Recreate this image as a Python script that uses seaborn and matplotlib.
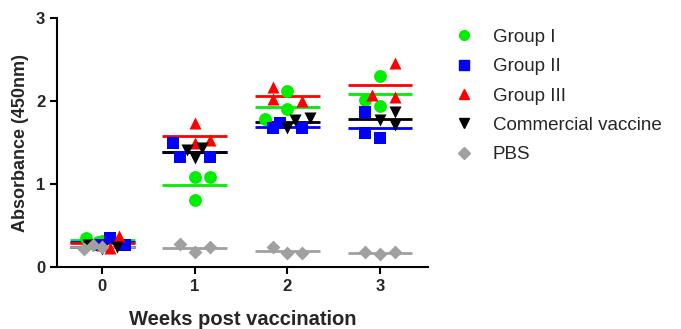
import numpy as np
import pandas as pd
import matplotlib
matplotlib.use("Agg")
import matplotlib.pyplot as plt
import seaborn as sns

weeks = [0, 1, 2, 3]
groups = ["Group I", "Group II", "Group III", "Commercial vaccine", "PBS"]

# absorbance values per group, per week (3 animals each)
group1 = [[0.35, 0.31, 0.30], [1.08, 1.08, 0.81], [2.12, 1.90, 1.78], [2.30, 2.01, 1.94]]
group2 = [[0.35, 0.27, 0.27], [1.49, 1.33, 1.33], [1.67, 1.73, 1.67], [1.87, 1.61, 1.55]]
group3 = [[0.37, 0.23, 0.27], [1.73, 1.49, 1.53], [2.17, 2.02, 2.00], [2.46, 2.07, 2.05]]
commercial = [[0.22, 0.24, 0.26], [1.41, 1.31, 1.43], [1.67, 1.77, 1.79], [1.87, 1.77, 1.71]]
pbs = [[0.22, 0.26, 0.24], [0.28, 0.18, 0.24], [0.24, 0.17, 0.17], [0.18, 0.16, 0.18]]

# horizontal scatter offsets (layout only)
jit1 = [[-0.18, 0.0, -0.05], [0.0, 0.16, 0.0], [0.0, 0.0, -0.24], [0.0, -0.16, 0.0]]
jit2 = [[0.08, -0.05, 0.24], [-0.24, -0.16, 0.16], [-0.16, -0.08, 0.16], [-0.16, -0.16, 0.0]]
jit3 = [[0.18, 0.08, 0.0], [0.0, 0.0, 0.16], [-0.16, -0.16, 0.16], [0.16, -0.09, 0.16]]
jit4 = [[0.0, 0.16, -0.16], [-0.08, 0.0, 0.08], [0.0, 0.08, 0.24], [0.16, 0.0, 0.16]]
jit5 = [[-0.2, -0.1, 0.0], [-0.16, 0.0, 0.16], [-0.16, 0.0, 0.16], [-0.16, 0.0, 0.16]]

data = [group1, group2, group3, commercial, pbs]
jits = [jit1, jit2, jit3, jit4, jit5]

colors = {"Group I": "#00EE00", "Group II": "#0000FF", "Group III": "#FF0000",
          "Commercial vaccine": "#000000", "PBS": "#A0A0A0"}
markers = {"Group I": "o", "Group II": "s", "Group III": "^",
           "Commercial vaccine": "v", "PBS": "D"}
sizes = {"Group I": 85, "Group II": 65, "Group III": 75,
         "Commercial vaccine": 75, "PBS": 50}

rows = []
for g, vals, jit in zip(groups, data, jits):
    for w, vs, js in zip(weeks, vals, jit):
        for v, j in zip(vs, js):
            rows.append({"group": g, "week": w, "x": w + j, "abs": v})
df = pd.DataFrame(rows)

sns.set_style("ticks")
plt.rcParams["font.family"] = ["Liberation Sans", "DejaVu Sans"]

fig = plt.figure(figsize=(6.81, 3.29), dpi=100)
ax = fig.add_axes([57/681, 1-267/329, (428-57)/681, (267-18)/329])

# mean lines
for g in groups:
    sub = df[df.group == g]
    for w in weeks:
        m = sub[sub.week == w]["abs"].mean()
        ax.hlines(m, w - 0.35, w + 0.35, color=colors[g], lw=2, zorder=2)

for g in groups:
    sub = df[df.group == g]
    sns.scatterplot(data=sub, x="x", y="abs", color=colors[g], marker=markers[g],
                    s=sizes[g], linewidth=0, ax=ax, zorder=3, label=g, legend=False)

ax.set_xlim(-0.49, 3.52)
ax.set_ylim(0, 3)
ax.set_xticks(weeks)
ax.set_yticks([0, 1, 2, 3])
for s in ["top", "right"]:
    ax.spines[s].set_visible(False)
for s in ["left", "bottom"]:
    ax.spines[s].set_linewidth(1.5)
    ax.spines[s].set_color("black")
ax.tick_params(width=1.5, length=5, color="black", labelsize=12)
for lbl in ax.get_xticklabels() + ax.get_yticklabels():
    lbl.set_fontweight("bold")
ax.set_xlabel("Weeks post vaccination", fontsize=14.5, fontweight="bold", labelpad=12)
ax.set_ylabel("Absorbance (450nm)", fontsize=13, fontweight="bold", labelpad=5)

handles = [plt.Line2D([], [], ls="", marker=markers[g], color=colors[g],
                      markersize=7 if markers[g] != "D" else 6) for g in groups]
fig.legend(handles, groups, loc="upper left", bbox_to_anchor=(433/681, 1-12/329),
           frameon=False, fontsize=13.5, handletextpad=0.8, labelspacing=0.65,
           handlelength=1.5)

fig.savefig("out.png", dpi=100)
